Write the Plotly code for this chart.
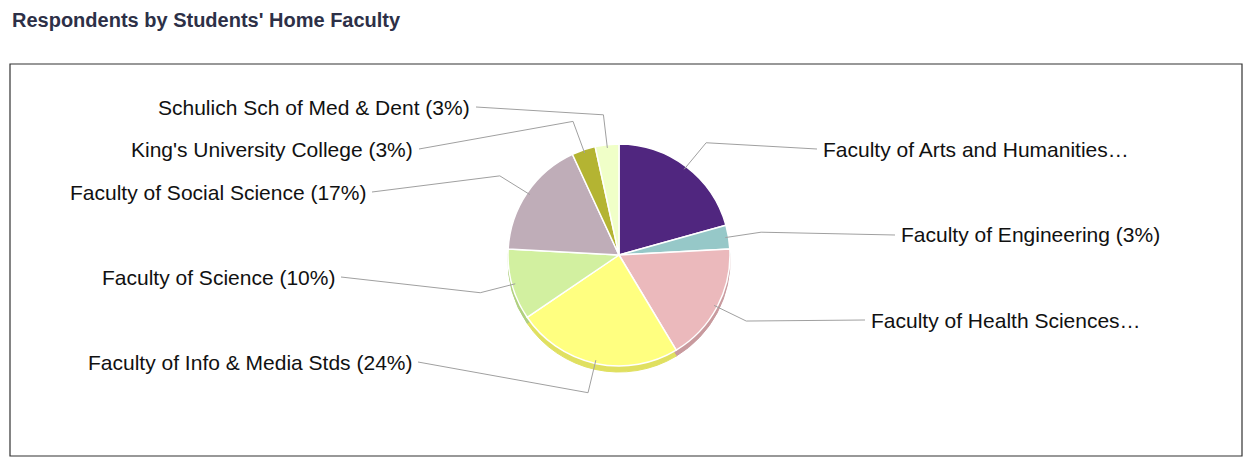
import math
import plotly.graph_objects as go

# ---- data ----
categories = [
    "Faculty of Arts and Humanities",
    "Faculty of Engineering",
    "Faculty of Health Sciences",
    "Faculty of Info & Media Stds",
    "Faculty of Science",
    "Faculty of Social Science",
    "King's University College",
    "Schulich Sch of Med & Dent",
]
counts = [6, 1, 5, 7, 3, 5, 1, 1]
display_labels = [
    "Faculty of Arts and Humanities…",
    "Faculty of Engineering (3%)",
    "Faculty of Health Sciences…",
    "Faculty of Info & Media Stds (24%)",
    "Faculty of Science (10%)",
    "Faculty of Social Science (17%)",
    "King's University College (3%)",
    "Schulich Sch of Med & Dent (3%)",
]
colors = ["#50267f", "#96c8c8", "#ebb9bc", "#ffff80",
          "#d2f0a0", "#bfadb8", "#b4b432", "#f0ffc8"]
rim_colors = ["#3a1c5e", "#7aa8a8", "#c89a9e", "#e0e060",
              "#b0d080", "#a08f99", "#909020", "#d0e0a0"]

# ---- layout (pixels) ----
W, H = 1251, 462
ML, MR, MT, MB = 10, 9, 64, 6
PW, PH = W - ML - MR, H - MT - MB
CX, CY, R = 619, 255, 111
RIM = 6

# label anchor positions (pixel) and alignment
label_pos = [
    (821, 149, "left"),
    (899, 235, "left"),
    (869, 320, "left"),
    (414, 362, "right"),
    (337, 277, "right"),
    (368, 192, "right"),
    (415, 149, "right"),
    (472, 107, "right"),
]


def px2p(x, y):
    return (x - ML) / PW, (H - MB - y) / PH


def dom(cy):
    x0, y0 = px2p(CX - R, cy + R)
    x1, y1 = px2p(CX + R, cy - R)
    return dict(x=[x0, x1], y=[y0, y1])


fig = go.Figure()
fig.add_trace(go.Pie(
    labels=categories, values=counts, sort=False, direction="clockwise",
    rotation=0, marker=dict(colors=rim_colors, line=dict(color=rim_colors, width=1)),
    textinfo="none", hoverinfo="skip", showlegend=False, domain=dom(CY + RIM)))
fig.add_trace(go.Pie(
    labels=categories, values=counts, sort=False, direction="clockwise",
    rotation=0, marker=dict(colors=colors, line=dict(color="white", width=1.5)),
    textinfo="none", showlegend=False, domain=dom(CY)))

shapes = [dict(type="rect", xref="paper", yref="paper", x0=0, y0=0, x1=1, y1=1,
               line=dict(color="#333333", width=1.2))]
annotations = []
total = sum(counts)
cum = 0
for i, c in enumerate(counts):
    mid = (cum + c / 2) / total * 2 * math.pi
    cum += c
    sx, sy = CX + 0.97 * R * math.sin(mid), CY - 0.97 * R * math.cos(mid)
    ex, ey = CX + (R + 33) * math.sin(mid), CY - (R + 30) * math.cos(mid)
    lx, ly, side = label_pos[i]
    tx = lx - 4 if side == "left" else lx + 4
    p1, p2, p3 = px2p(sx, sy), px2p(ex, ey), px2p(tx, ly)
    shapes.append(dict(type="path", xref="paper", yref="paper",
                       path=f"M {p1[0]},{p1[1]} L {p2[0]},{p2[1]} L {p3[0]},{p3[1]}",
                       line=dict(color="#a0a0a0", width=1)))
    ax, ay = px2p(lx, ly)
    annotations.append(dict(x=ax, y=ay, xref="paper", yref="paper", text=display_labels[i],
                            showarrow=False, xanchor=side, yanchor="middle",
                            font=dict(size=21, color="#111111",
                                      family="Liberation Sans, Arial, sans-serif")))

tx, ty = px2p(10, 20)
annotations.append(dict(x=tx, y=ty, xref="paper", yref="paper",
                        text="<b>Respondents by Students' Home Faculty</b>", showarrow=False,
                        xanchor="left", yanchor="middle",
                        font=dict(size=20, color="#2d3047",
                                  family="Liberation Sans, Arial, sans-serif")))

fig.update_layout(width=W, height=H, margin=dict(l=ML, r=MR, t=MT, b=MB),
                  paper_bgcolor="white", plot_bgcolor="white",
                  shapes=shapes, annotations=annotations)
fig.write_html("out.html", config={"displayModeBar": False},
               post_script="document.body.style.margin='0px';document.body.style.overflow='hidden';")
